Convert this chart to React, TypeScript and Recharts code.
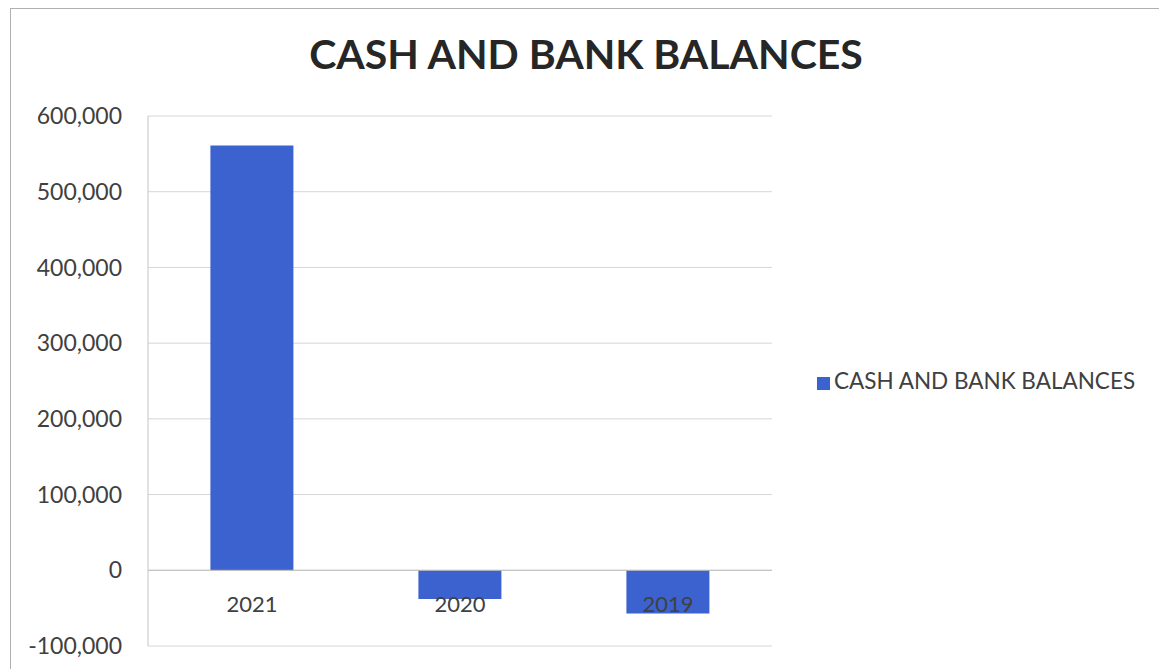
import { Bar, BarChart, CartesianGrid, Legend, ReferenceLine, XAxis, YAxis } from "recharts"

const years = ["2021", "2020", "2019"]
const balances = [561000, -38000, -57000]
const yTicks = [-100000, 0, 100000, 200000, 300000, 400000, 500000, 600000]

const data = years.map((year, i) => ({ year, value: balances[i] }))

const font = "Lato, 'Open Sans', sans-serif"

const YearTick = ({ x, y, payload }: any) => (
  <text x={x} y={y - 42} textAnchor="middle" fill="#404040" fontSize={22} fontFamily={font}>
    {payload.value}
  </text>
)

export default function App() {
  return (
    <div
      style={{
        position: "relative",
        width: 1150,
        height: 660,
        marginLeft: 2,
        border: "1px solid #b0b0b0",
        background: "#fff",
        fontFamily: font,
      }}
    >
      <div
        style={{
          position: "absolute",
          top: 20,
          left: 0,
          width: 1150,
          textAlign: "center",
          fontSize: 41,
          fontWeight: 700,
          color: "#262626",
        }}
      >
        CASH AND BANK BALANCES
      </div>
      <BarChart
        width={1150}
        height={660}
        data={data}
        margin={{ top: 107, right: 389, bottom: 8, left: 17 }}
        barCategoryGap="30%"
      >
        <CartesianGrid vertical={false} stroke="#d6d6d6" />
        <XAxis
          dataKey="year"
          axisLine={false}
          tickLine={false}
          tick={<YearTick />}
          height={15}
        />
        <YAxis
          domain={[-100000, 600000]}
          ticks={yTicks}
          width={120}
          axisLine={{ stroke: "#c4c4c4" }}
          tickLine={false}
          tickMargin={20}
          tick={{ fill: "#404040", fontSize: 23, fontFamily: font }}
          tickFormatter={(v) => v.toLocaleString("en-US")}
        />
        <ReferenceLine y={0} stroke="#bfbfbf" />
        <Legend
          layout="horizontal"
          align="center"
          verticalAlign="middle"
          iconType="square"
          iconSize={13}
          wrapperStyle={{ left: 806, top: 358, width: "auto", fontSize: 22.5, fontFamily: font }}
          formatter={(v) => <span style={{ color: "#404040" }}>{v}</span>}
        />
        <Bar
          dataKey="value"
          name="CASH AND BANK BALANCES"
          fill="#3b62cf"
          isAnimationActive={false}
        />
      </BarChart>
    </div>
  )
}
